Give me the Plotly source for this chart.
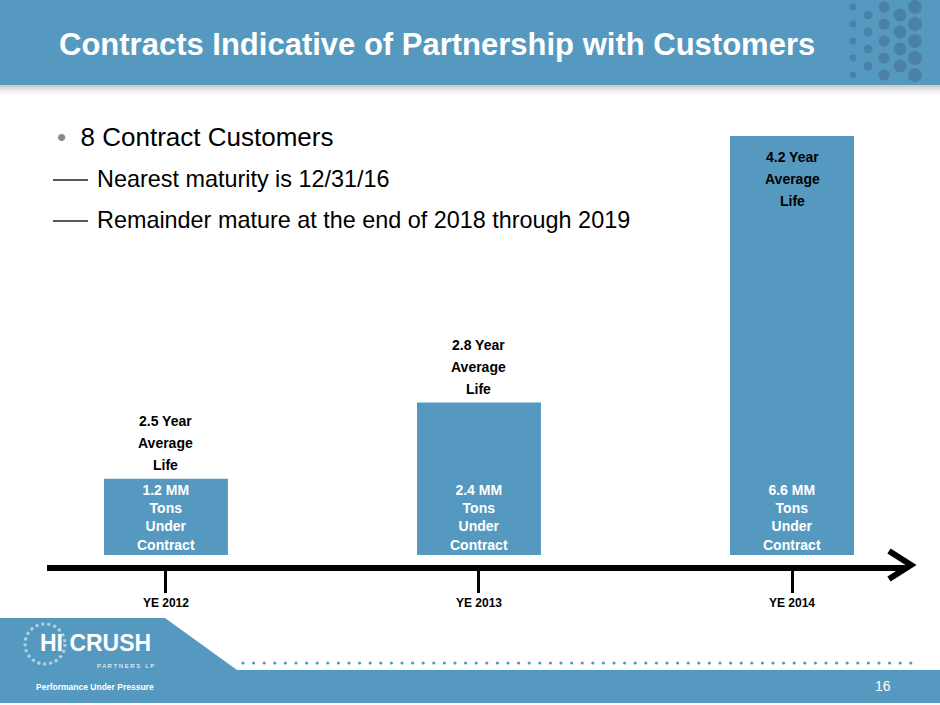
import plotly.graph_objects as go

# chart data
periods = ["YE 2012", "YE 2013", "YE 2014"]
tons_mm = [1.2, 2.4, 6.6]           # MM tons under contract
avg_life_years = [2.5, 2.8, 4.2]    # average contract life

title = "Contracts Indicative of Partnership with Customers"
bullet = "8 Contract Customers"
sub_bullets = ["Nearest maturity is 12/31/16",
               "Remainder mature at the end of 2018 through 2019"]
page_no = "16"

W, H = 940, 705
BLUE = "#5699C0"
DARK_DOT = "#4A82A7"
FONT = "Liberation Sans, Arial, sans-serif"


def px(x, y):
    # pixel position -> paper coords
    return x / W, 1 - y / H


def path(points):
    s = ""
    for i, (x, y) in enumerate(points):
        u, v = px(x, y)
        s += ("M" if i == 0 else "L") + f"{u:.5f},{v:.5f} "
    return s


def text_at(x, y, text, size, color="black", anchor="center"):
    u, v = px(x, y)
    return dict(x=u, y=v, xref="paper", yref="paper", xanchor=anchor,
                yanchor="middle", text=text, showarrow=False,
                font=dict(family=FONT, size=size, color=color))


fig = go.Figure()

fig.add_trace(go.Bar(
    x=periods, y=tons_mm, width=0.396,
    marker=dict(color=BLUE, line=dict(width=0)),
    hoverinfo="skip",
))

shapes = []
annotations = []

# header band + shadow
for i, op in enumerate([0.25, 0.18, 0.12, 0.07, 0.03]):
    x0, y0 = px(0, 85 + i * 2)
    x1, y1 = px(940, 87 + i * 2)
    shapes.append(dict(type="rect", xref="paper", yref="paper", x0=x0, x1=x1,
                       y0=y1, y1=y0, fillcolor="rgba(60,60,60,%s)" % op,
                       line_width=0, layer="below"))
shapes.append(dict(type="rect", xref="paper", yref="paper", x0=0, x1=1,
                   y0=px(0, 85)[1], y1=1, fillcolor=BLUE, line_width=0,
                   layer="below"))

# dotted decoration at header right
cols = [(853, 3.5), (868, 4.5), (884, 5.5), (900, 6.5), (915, 7)]
for ci, (cx, r) in enumerate(cols):
    for ri in range(6):
        cy = 7 + ri * 17 + (8 if ci % 2 else 0)
        if cy + r > 85:
            continue
        x0, y0 = px(cx - r, cy - r)
        x1, y1 = px(cx + r, cy + r)
        shapes.append(dict(type="circle", xref="paper", yref="paper",
                           x0=x0, x1=x1, y0=y1, y1=y0, fillcolor=DARK_DOT,
                           line_width=0, layer="below"))

# footer shape
shapes.append(dict(type="path", xref="paper", yref="paper",
                   path=path([(0, 618), (165, 618), (237, 670), (940, 670),
                              (940, 703), (0, 703)]) + "Z",
                   fillcolor=BLUE, line_width=0, layer="below"))
x = 243
while x <= 920:
    x0, y0 = px(x - 1.6, 663 - 1.6)
    x1, y1 = px(x + 1.6, 663 + 1.6)
    shapes.append(dict(type="circle", xref="paper", yref="paper",
                       x0=x0, x1=x1, y0=y1, y1=y0, fillcolor=BLUE,
                       line_width=0, layer="below"))
    x += 10.6

# logo ring
x0, y0 = px(25, 624)
x1, y1 = px(65, 664)
shapes.append(dict(type="circle", xref="paper", yref="paper", x0=x0, x1=x1,
                   y0=y1, y1=y0, line=dict(color="rgba(255,255,255,0.55)",
                                           width=3, dash="dot"),
                   layer="below"))

# sub-bullet dashes
for i in range(len(sub_bullets)):
    u0, v = px(53, 180 + 41 * i)
    u1, _ = px(88, 0)
    shapes.append(dict(type="line", xref="paper", yref="paper", x0=u0, x1=u1,
                       y0=v, y1=v, line=dict(color="#222222", width=1.5)))

# timeline arrow head
shapes.append(dict(type="path", xref="paper", yref="paper",
                   path=path([(889, 551), (911, 565), (889, 579)]),
                   line=dict(color="black", width=6)))

fig.update_layout(shapes=shapes)

# labels on the bars
y_top = 8.74
for p, t, life in zip(periods, tons_mm, avg_life_years):
    annotations.append(dict(
        x=p, y=0, xref="x", yref="y", yanchor="bottom", yshift=0,
        text=f"<b>{t:.1f} MM<br>Tons<br>Under<br>Contract</b>",
        showarrow=False, font=dict(family=FONT, size=14, color="white")))
    lines = [f"{life:.1f} Year", "Average", "Life"]
    inside = t > 0.7 * y_top
    for i, line in enumerate(lines):
        if inside:
            shift = -21 - 22 * i
        else:
            shift = 14 + 22 * (2 - i)
        annotations.append(dict(
            x=p, y=t, xref="x", yref="y", yanchor="middle", yshift=shift,
            text=f"<b>{line}</b>", showarrow=False,
            font=dict(family=FONT, size=14, color="black")))

# slide text
annotations.append(text_at(437, 45, f"<b>{title}</b>", 31, "white"))
annotations.append(text_at(55, 137, "<span style='color:#888888'>•</span>  "
                           + bullet, 26, anchor="left"))
for i, s in enumerate(sub_bullets):
    annotations.append(text_at(95, 179 + 41 * i, s, 23.4, anchor="left"))

# logo + page number
annotations.append(text_at(95, 643, "<b>HI CRUSH</b>", 23, "white"))
annotations.append(text_at(125, 666, "P A R T N E R S   L P", 6, "white"))
annotations.append(text_at(95, 687, "<b>Performance Under Pressure</b>", 8.5,
                           "white"))
annotations.append(text_at(883, 686, page_no, 14, "white"))

fig.update_layout(
    width=W, height=H,
    margin=dict(l=0, r=0, t=0, b=0),
    paper_bgcolor="white", plot_bgcolor="rgba(0,0,0,0)",
    showlegend=False,
    annotations=annotations,
    xaxis=dict(
        domain=[47 / W, 905 / W], range=[-0.38, 2.361],
        showgrid=False, zeroline=False,
        showline=True, linecolor="black", linewidth=6,
        ticks="outside", ticklen=22, tickwidth=3, tickcolor="black",
        tickfont=dict(family=FONT, size=12, color="black"),
        tickprefix="<b>", ticksuffix="</b>",
        fixedrange=True,
    ),
    yaxis=dict(
        domain=[(H - 565) / H, 1], range=[-0.157, y_top],
        visible=False, fixedrange=True,
    ),
)

fig.write_html("out.html", config={"displayModeBar": False},
               post_script="document.body.style.margin = '0';")
